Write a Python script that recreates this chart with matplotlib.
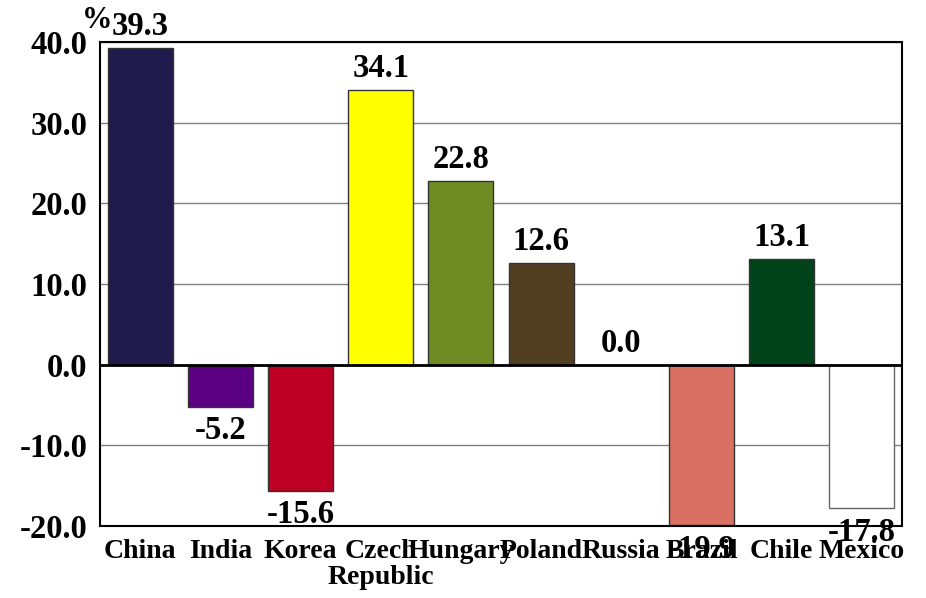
import matplotlib
matplotlib.use("Agg")
import matplotlib.pyplot as plt

categories = ["China", "India", "Korea", "Czech\nRepublic", "Hungary", "Poland",
              "Russia", "Brazil", "Chile", "Mexico"]
values = [39.3, -5.2, -15.6, 34.1, 22.8, 12.6, 0.0, -19.9, 13.1, -17.8]
colors = ["#211A4C", "#5B0082", "#BF0025", "#FFFF00", "#6F8C24", "#523F22",
          "#FFFFFF", "#DA6F63", "#00431A", "#FFFFFF"]
yticks = [-20, -10, 0, 10, 20, 30, 40]

plt.rcParams["font.family"] = ["Liberation Serif", "DejaVu Serif"]
plt.rcParams["font.weight"] = "bold"

fig = plt.figure(figsize=(9.26, 5.98), dpi=100)
ax = fig.add_axes([100/926, 72/598, 802/926, 484/598])

x = list(range(len(categories)))
edgecols = ["#333333"] * len(categories)
edgecols[9] = "#666666"
ax.bar(x, values, width=0.81, color=colors, edgecolor=edgecols, linewidth=1.0, zorder=3)

ax.set_xlim(-0.5, len(categories) - 0.5)
ax.set_ylim(-20, 40)
ax.set_yticks(yticks)
ax.set_yticklabels([f"{v:.1f}" for v in yticks], fontsize=23.5, fontweight="bold")
ax.set_xticks(x)
ax.set_xticklabels(categories, fontsize=20, fontweight="bold", linespacing=1.1)
ax.tick_params(axis="both", length=0)
ax.tick_params(axis="y", pad=9)
ax.tick_params(axis="x", pad=9)

ax.grid(axis="y", color="#808080", linewidth=1.0, zorder=1)
ax.axhline(0, color="black", linewidth=2.0, zorder=4)
for s in ax.spines.values():
    s.set_linewidth(1.5)
    s.set_color("black")
    s.set_zorder(5)

for xi, v in zip(x, values):
    if v >= 0:
        ax.annotate(f"{v:.1f}", (xi, v), xytext=(0, 4), textcoords="offset points",
                    ha="center", va="bottom", fontsize=23.5, fontweight="bold", zorder=6)
    else:
        ax.annotate(f"{v:.1f}", (xi, v), xytext=(0, -6), textcoords="offset points",
                    ha="center", va="top", fontsize=23.5, fontweight="bold", zorder=6)

fig.text(82/926, 1 - 28/598, "%", fontsize=22, fontweight="bold", ha="left", va="baseline")

fig.savefig("out.png", dpi=100)
